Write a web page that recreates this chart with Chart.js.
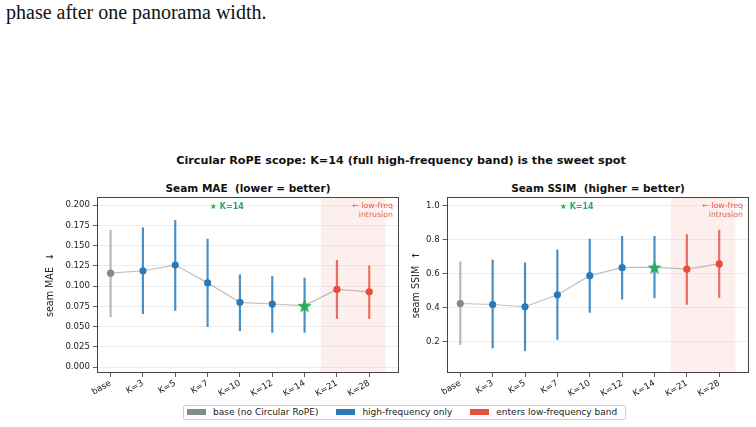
<!DOCTYPE html>
<html>
<head>
<meta charset="utf-8">
<script src="https://cdn.jsdelivr.net/npm/chart.js@4.4.1/dist/chart.umd.min.js"></script>
<style>
  body { margin: 0; background: #fff; width: 756px; height: 427px; position: relative; overflow: hidden; font-family: 'DejaVu Sans', sans-serif; }
  .abs { position: absolute; }
  #intro { left: 6px; top: 1px; font-family: 'Liberation Serif', serif; font-size: 20px; color: #111; white-space: nowrap; }
  #suptitle { left: 0; width: 802px; top: 154px; text-align: center; font-weight: bold; font-size: 11.2px; color: #111; white-space: nowrap; }
  .subtitle { top: 182px; text-align: center; font-weight: bold; font-size: 10.5px; color: #111; white-space: nowrap; }
  #legend { left: 183px; top: 405px; height: 14.5px; border: 1px solid #d0d0d0; border-radius: 2px; display: flex; align-items: center; padding: 0 8px 0 3px; font-size: 9px; color: #222; box-sizing: border-box; }
  #legend .item { display: flex; align-items: center; margin-right: 18px; }
  #legend .item:last-child { margin-right: 0; }
  #legend .patch { width: 19px; height: 6px; margin-right: 7px; }
</style>
</head>
<body>
<div id="intro" class="abs">phase after one panorama width.</div>
<div id="suptitle" class="abs">Circular RoPE scope: K=14 (full high-frequency band) is the sweet spot</div>
<div class="abs subtitle" style="left:97px;width:302px">Seam MAE&nbsp;&nbsp;(lower = better)</div>
<div class="abs subtitle" style="left:447px;width:302px">Seam SSIM&nbsp;&nbsp;(higher = better)</div>
<canvas id="mae" class="abs" style="left:0;top:180px" width="405" height="225"></canvas>
<canvas id="ssim" class="abs" style="left:400px;top:180px" width="356" height="225"></canvas>
<div id="legend" class="abs"></div>
<script>
// ---- data ----
const categories = ['base', 'K=3', 'K=5', 'K=7', 'K=10', 'K=12', 'K=14', 'K=21', 'K=28'];
const groups = ['base', 'high', 'high', 'high', 'high', 'high', 'high', 'low', 'low'];
const maeMean = [0.116, 0.119, 0.126, 0.104, 0.080, 0.078, 0.076, 0.096, 0.093];
const maeLow  = [0.062, 0.066, 0.070, 0.050, 0.045, 0.043, 0.043, 0.060, 0.060];
const maeHigh = [0.169, 0.172, 0.181, 0.158, 0.114, 0.112, 0.110, 0.132, 0.125];
const ssimMean = [0.425, 0.419, 0.406, 0.476, 0.588, 0.635, 0.638, 0.626, 0.657];
const ssimLow  = [0.184, 0.165, 0.149, 0.215, 0.372, 0.451, 0.457, 0.419, 0.459];
const ssimHigh = [0.669, 0.680, 0.663, 0.739, 0.802, 0.818, 0.818, 0.829, 0.855];
const bestIndex = 6;          // K=14
const lowFreqBand = [6.5, 8.5]; // shaded region in category units
const legendLabels = ['base (no Circular RoPE)', 'high-frequency only', 'enters low-frequency band'];

const colors = { base: '#7f8c8d', high: '#2a7ab9', low: '#e74c3c' };
const barColors = { base: 'rgba(127,140,141,0.6)', high: 'rgba(42,122,185,0.85)', low: 'rgba(231,76,60,0.8)' };
const green = '#27ae60';

Chart.defaults.font.family = 'DejaVu Sans';
Chart.defaults.color = '#222';

function makeStar(r, color) {
  const c = document.createElement('canvas');
  const s = Math.ceil(r * 2 + 2);
  c.width = c.height = s;
  const g = c.getContext('2d');
  g.fillStyle = color;
  g.beginPath();
  for (let i = 0; i < 10; i++) {
    const a = -Math.PI / 2 + i * Math.PI / 5;
    const rr = i % 2 ? r * 0.42 : r;
    g.lineTo(s / 2 + rr * Math.cos(a), s / 2 + rr * Math.sin(a) + r * 0.1);
  }
  g.closePath();
  g.fill();
  return c;
}
const star = makeStar(7.5, green);

// shading, frame and the little text notes
const decor = {
  id: 'decor',
  beforeDatasetsDraw(chart) {
    const { ctx, chartArea: a, scales: { x } } = chart;
    const x0 = x.getPixelForValue(lowFreqBand[0]);
    const x1 = x.getPixelForValue(lowFreqBand[1]);
    ctx.save();
    ctx.fillStyle = 'rgba(231,76,60,0.09)';
    ctx.fillRect(x0, a.top, x1 - x0, a.bottom - a.top);
    ctx.restore();
  },
  afterDraw(chart) {
    const { ctx, chartArea: a } = chart;
    ctx.save();
    ctx.strokeStyle = '#444';
    ctx.lineWidth = 1;
    ctx.strokeRect(Math.round(a.left) + 0.5, Math.round(a.top) + 0.5, Math.round(a.right - a.left) - 1, Math.round(a.bottom - a.top) - 1);
    ctx.textBaseline = 'middle';
    ctx.fillStyle = green;
    ctx.font = 'bold 8px DejaVu Sans';
    ctx.textAlign = 'center';
    ctx.fillText('★ K=14', a.left + (a.right - a.left) * 0.43, a.top + 9.5);
    ctx.fillStyle = 'rgba(231,76,60,0.9)';
    ctx.font = '7.8px DejaVu Sans';
    ctx.textAlign = 'right';
    ctx.fillText('← low-freq', a.right - 6, a.top + 9);
    ctx.fillText('intrusion', a.right - 6, a.top + 17.5);
    ctx.restore();
  }
};

function makeChart(id, mean, low, high, opts) {
  const pts = mean.map((v, i) => ({ x: i, y: v }));
  new Chart(document.getElementById(id), {
    type: 'bar',
    data: {
      datasets: [
        {
          type: 'line',
          data: pts,
          borderColor: 'rgba(150,150,150,0.6)',
          borderWidth: 1.2,
          pointRadius: 0,
          order: 3
        },
        {
          type: 'bar',
          data: low.map((v, i) => ({ x: i, y: [v, high[i]] })),
          backgroundColor: groups.map(g => barColors[g]),
          barThickness: 1.5,
          order: 2
        },
        {
          type: 'line',
          data: pts,
          showLine: false,
          pointRadius: mean.map((v, i) => i === bestIndex ? 8 : 3.6),
          pointStyle: mean.map((v, i) => i === bestIndex ? star : 'circle'),
          pointBackgroundColor: groups.map(g => colors[g]),
          pointBorderWidth: 0,
          order: 1
        }
      ]
    },
    options: {
      responsive: false,
      animation: false,
      events: [],
      layout: { padding: opts.padding },
      plugins: { legend: { display: false }, tooltip: { enabled: false } },
      scales: {
        x: {
          type: 'linear',
          min: -0.42,
          max: 8.92,
          offset: false,
          afterFit: s => { s.height = opts.xHeight; },
          grid: { offset: false, drawOnChartArea: false, tickLength: 4, tickColor: '#333', lineWidth: 0.8 },
          border: { display: false },
          ticks: {
            stepSize: 1,
            includeBounds: false,
            autoSkip: false,
            minRotation: 30,
            maxRotation: 30,
            padding: 1,
            font: { size: 8.7 },
            callback: v => categories[v]
          }
        },
        y: {
          min: opts.yMin,
          max: opts.yMax,
          afterFit: s => { s.width = opts.yWidth; },
          grid: { color: '#e8e8e8', lineWidth: 0.8, tickLength: 4, tickColor: '#333' },
          border: { display: false },
          ticks: {
            stepSize: opts.step,
            includeBounds: false,
            padding: 3,
            font: { size: 8.6 },
            callback: v => v.toFixed(opts.digits)
          },
          title: { display: true, text: opts.title, padding: { top: 0, bottom: 0 }, font: { size: 9.6 } }
        }
      }
    },
    plugins: [decor]
  });
}

makeChart('mae', maeMean, maeLow, maeHigh, {
  padding: { left: 45, right: 6, top: 17, bottom: 0 },
  yWidth: 52, xHeight: 32,
  yMin: -0.0071, yMax: 0.2099, step: 0.025, digits: 3,
  title: 'seam MAE  ↓'
});
makeChart('ssim', ssimMean, ssimLow, ssimHigh, {
  padding: { left: 11, right: 7, top: 17, bottom: 0 },
  yWidth: 35.7, xHeight: 32,
  yMin: 0.0177, yMax: 1.049, step: 0.2, digits: 1,
  title: 'seam SSIM  ↑'
});

// legend
const legend = document.getElementById('legend');
['base', 'high', 'low'].forEach((g, i) => {
  const item = document.createElement('div');
  item.className = 'item';
  item.innerHTML = '<span class="patch" style="background:' + colors[g] + '"></span><span>' + legendLabels[i] + '</span>';
  legend.appendChild(item);
});
</script>
</body>
</html>
